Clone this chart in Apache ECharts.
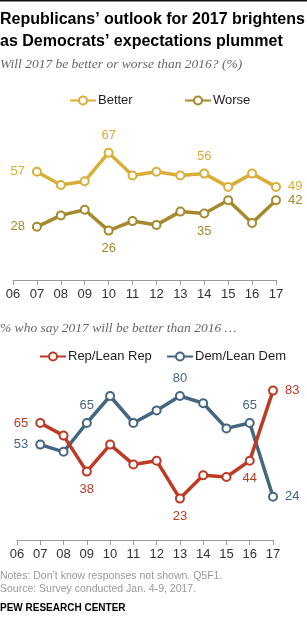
<!DOCTYPE html>
<html>
<head>
<meta charset="utf-8">
<script src="https://cdn.jsdelivr.net/npm/echarts@6/dist/echarts.min.js"></script>
<style>
  html, body { margin: 0; padding: 0; background: #fff; }
  #chart { width: 307px; height: 630px; }
</style>
</head>
<body>
<div id="chart"></div>
<script>
// tick labels, shared by both panels
const years = ['06', '07', '08', '09', '10', '11', '12', '13', '14', '15', '16', '17'];

// top panel: all adults (%)
const better = [null, 57, 50, 52, 67, 55, 57, 55, 56, 49, 56, 49];
const worse  = [null, 28, 34, 37, 26, 31, 29, 36, 35, 42, 30, 42];

// bottom panel: % who say 2017 will be better
const rep = [null, 65, 58, 38, 53, 42, 44, 23, 36, 35, 44, 83];
const dem = [null, 53, 49, 65, 80, 65, 72, 80, 76, 62, 65, 24];

const GOLD = '#d9ae38';
const OLIVE = '#a48a2c';
const RED = '#bd3a25';
const BLUE = '#45667f';

// which points carry a value label, and where
function withLabels(values, marks, color) {
  return values.map(function (v, i) {
    if (v == null || !marks[i]) return v;
    const pos = marks[i];
    return {
      value: v,
      label: {
        show: true,
        position: pos,
        distance: pos === 'left' || pos === 'right' ? 7 : 6,
        color: color,
        fontSize: 13,
        fontFamily: 'Liberation Sans, Arial, sans-serif'
      }
    };
  });
}

function lineSeries(name, values, color, axisIdx, marks) {
  return {
    name: name,
    type: 'line',
    xAxisIndex: axisIdx,
    yAxisIndex: axisIdx,
    data: withLabels(values, marks, color),
    symbol: 'emptyCircle',
    symbolSize: 8,
    showAllSymbol: true,
    color: color,
    lineStyle: { width: 3.5, color: color },
    itemStyle: { color: color, borderWidth: 2 },
    emphasis: { disabled: true },
    animation: false
  };
}

function xAxis(gridIdx) {
  return {
    type: 'category',
    gridIndex: gridIdx,
    data: years,
    boundaryGap: false,
    axisLine: { lineStyle: { color: '#9a9a9a', width: 1 } },
    axisTick: { show: true, length: 5, alignWithLabel: true, lineStyle: { color: '#9a9a9a' } },
    axisLabel: { color: '#333', fontSize: 13, margin: 8, fontFamily: 'Liberation Sans, Arial, sans-serif' }
  };
}

function yAxis(gridIdx) {
  return { type: 'value', gridIndex: gridIdx, min: 0, max: 100, show: false, splitLine: { show: false } };
}

function legend(name, left, top) {
  return {
    data: [name],
    left: left,
    top: top,
    itemWidth: 26,
    itemHeight: 10,
    selectedMode: false,
    textStyle: { color: '#222', fontSize: 13, fontFamily: 'Liberation Sans, Arial, sans-serif', padding: [0, 0, 0, -3] }
  };
}

const chart = echarts.init(document.getElementById('chart'), null, { renderer: 'canvas' });

const titleFont = 'bold 16px "Liberation Sans", Arial, sans-serif';
const subFont = 'italic 13.5px "Liberation Serif", Georgia, serif';
const noteFont = '10.5px "Liberation Sans", Arial, sans-serif';

chart.setOption({
  backgroundColor: '#fff',
  graphic: [
    { type: 'rect', shape: { x: 0, y: 0, width: 307, height: 1.5 }, style: { fill: '#111' } },
    { type: 'text', x: 0, y: 12, style: { text: 'Republicans\u2019 outlook for 2017 brightens', font: titleFont, fill: '#000' } },
    { type: 'text', x: 0, y: 34, style: { text: 'as Democrats\u2019 expectations plummet', font: titleFont, fill: '#000' } },
    { type: 'text', x: 0, y: 57, style: { text: 'Will 2017 be better or worse than 2016? (%)', font: subFont, fill: '#666' } },
    { type: 'text', x: 0, y: 321, style: { text: '% who say 2017 will be better than 2016 \u2026', font: subFont, fill: '#666' } },
    { type: 'text', x: 0, y: 571, style: { text: 'Notes: Don\u2019t know responses not shown. Q5F1.', font: noteFont, fill: '#999' } },
    { type: 'text', x: 0, y: 584, style: { text: 'Source: Survey conducted Jan. 4-9, 2017.', font: noteFont, fill: '#999' } },
    { type: 'text', x: 0, y: 603, style: { text: 'PEW RESEARCH CENTER', font: 'bold 10px "Liberation Sans", Arial, sans-serif', fill: '#000' } }
  ],
  legend: [
    legend('Better', 64, 89),
    legend('Worse', 179, 89),
    legend('Rep/Lean Rep', 34, 345),
    legend('Dem/Lean Dem', 161, 345)
  ],
  grid: [
    { left: 13, right: 31, top: 90, bottom: 350 },
    { left: 17, right: 34, top: 360, bottom: 90 }
  ],
  xAxis: [xAxis(0), xAxis(1)],
  yAxis: [yAxis(0), yAxis(1)],
  series: [
    lineSeries('Better', better, GOLD, 0, { 1: 'left', 4: 'top', 8: 'top', 11: 'right' }),
    lineSeries('Worse', worse, OLIVE, 0, { 1: 'left', 4: 'bottom', 8: 'bottom', 11: 'right' }),
    lineSeries('Dem/Lean Dem', dem, BLUE, 1, { 1: 'left', 3: 'top', 7: 'top', 10: 'top', 11: 'right' }),
    lineSeries('Rep/Lean Rep', rep, RED, 1, { 1: 'left', 3: 'bottom', 7: 'bottom', 10: 'bottom', 11: 'right' })
  ]
});
</script>
</body>
</html>
